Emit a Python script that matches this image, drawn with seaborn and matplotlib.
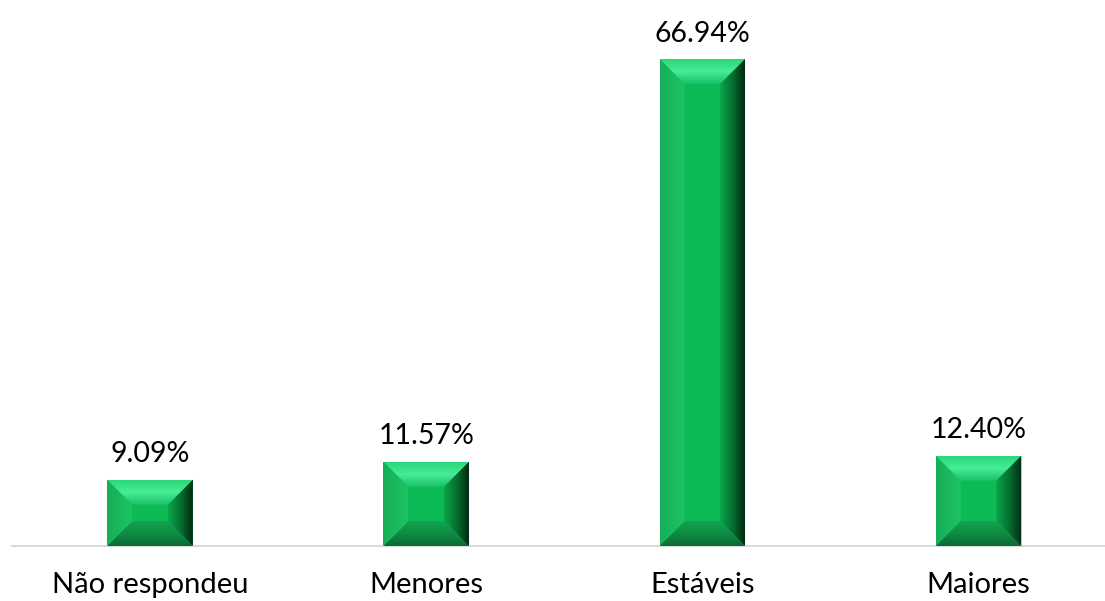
import numpy as np
import pandas as pd
import matplotlib
matplotlib.use("Agg")
import matplotlib.pyplot as plt
import seaborn as sns
from matplotlib.patches import Polygon
from matplotlib.colors import LinearSegmentedColormap

categories = ["Não respondeu", "Menores", "Estáveis", "Maiores"]
values = [9.09, 11.57, 66.94, 12.40]
value_labels = ["9.09%", "11.57%", "66.94%", "12.40%"]

sns.set_theme(style="white")
plt.rcParams['font.family'] = ['Lato', 'DejaVu Sans']

fig = plt.figure(figsize=(11.05, 6.01), dpi=100)
ax = fig.add_axes([12 / 1105, 55 / 601, 1 - 12 / 1105, 1 - 55 / 601])

df = pd.DataFrame({"cat": categories, "val": values})
sns.barplot(data=df, x="cat", y="val", color="#0cbb56", width=0.31, ax=ax,
            saturation=1, edgecolor="none")

ax.set_xlim(-0.5, (1105 - 149.5) / 276.3)
ax.set_ylim(0, 546 / 7.275)
ax.set_xlabel("")
ax.set_ylabel("")
ax.set_yticks([])
for s in ["top", "right", "left"]:
    ax.spines[s].set_visible(False)
ax.spines["bottom"].set_color("#d9d9d9")
ax.spines["bottom"].set_linewidth(1.5)
ax.tick_params(axis="x", length=0, pad=18.5, labelsize=21, labelcolor="black")

ax.bar_label(ax.containers[0], labels=value_labels, padding=9, fontsize=20.5, color="black")

fig.canvas.draw()
p0 = ax.transData.transform((0, 0))
p1 = ax.transData.transform((1, 1))
pxx = p1[0] - p0[0]
pxy = p1[1] - p0[1]
bpx = 25
bx = bpx / pxx
by = bpx / pxy


def grad_fill(poly_pts, colors, direction, bbox, z=3):
    x0, x1, y0, y1 = bbox
    cmap = LinearSegmentedColormap.from_list("g", colors)
    g = np.linspace(0, 1, 256)
    if direction == "v":
        img = g[:, None]
    else:
        img = g[None, :]
    poly = Polygon(poly_pts, closed=True, facecolor="none", edgecolor="none",
                   transform=ax.transData)
    ax.add_patch(poly)
    im = ax.imshow(img, cmap=cmap, extent=(x0, x1, y0, y1), origin="lower",
                   aspect="auto", zorder=z, interpolation="bilinear")
    im.set_clip_path(poly)


for patch in ax.containers[0]:
    x0 = patch.get_x()
    x1 = x0 + patch.get_width()
    y0 = patch.get_y()
    y1 = y0 + patch.get_height()
    # top bevel
    grad_fill([(x0, y1), (x1, y1), (x1 - bx, y1 - by), (x0 + bx, y1 - by)],
              ["#1ac064", "#47ec98", "#2ad878"], "v", (x0, x1, y1 - by, y1))
    # bottom bevel
    grad_fill([(x0, y0), (x1, y0), (x1 - bx, y0 + by), (x0 + bx, y0 + by)],
              ["#0a6a33", "#0f8c45", "#12a450"], "v", (x0, x1, y0, y0 + by))
    # left bevel
    grad_fill([(x0, y0), (x0, y1), (x0 + bx, y1 - by), (x0 + bx, y0 + by)],
              ["#16ae57", "#1ec464"], "h", (x0, x0 + bx, y0, y1))
    # right bevel
    grad_fill([(x1, y0), (x1, y1), (x1 - bx, y1 - by), (x1 - bx, y0 + by)],
              ["#0aa64b", "#067030", "#002a12"], "h", (x1 - bx, x1, y0, y1))

ax.set_xlim(-0.5, (1105 - 149.5) / 276.3)
ax.set_ylim(0, 546 / 7.275)

fig.savefig("out.png", dpi=100)
